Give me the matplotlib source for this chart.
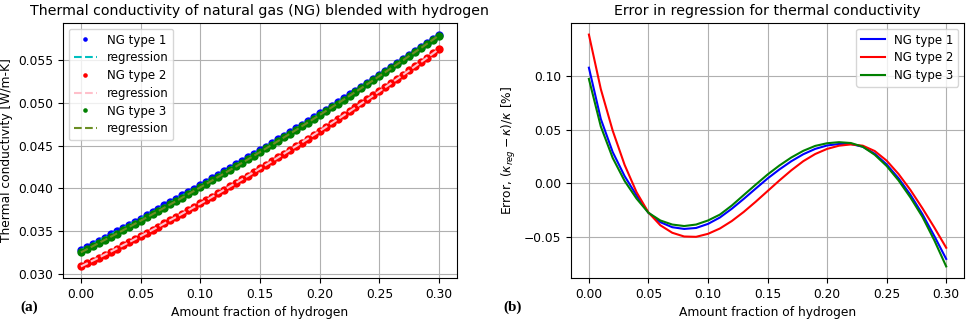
import matplotlib
matplotlib.use("Agg")
import matplotlib.pyplot as plt
import numpy as np

# amount fraction of hydrogen (0.005 steps for the conductivity data)
h2_frac = [round(0.005 * i, 3) for i in range(61)]

k_type1 = [0.03278, 0.03314, 0.03350, 0.03387, 0.03423, 0.03460, 0.03496, 0.03534,
           0.03571, 0.03609, 0.03646, 0.03684, 0.03722, 0.03760, 0.03799, 0.03838,
           0.03877, 0.03916, 0.03955, 0.03995, 0.04035, 0.04075, 0.04115, 0.04156,
           0.04197, 0.04238, 0.04279, 0.04320, 0.04361, 0.04403, 0.04445, 0.04487,
           0.04530, 0.04572, 0.04615, 0.04658, 0.04701, 0.04744, 0.04788, 0.04832,
           0.04876, 0.04920, 0.04964, 0.05009, 0.05054, 0.05099, 0.05144, 0.05190,
           0.05235, 0.05281, 0.05327, 0.05374, 0.05420, 0.05467, 0.05514, 0.05561,
           0.05609, 0.05656, 0.05704, 0.05752, 0.05800]

k_type2 = [0.03085, 0.03119, 0.03154, 0.03188, 0.03223, 0.03259, 0.03294, 0.03330,
           0.03366, 0.03403, 0.03439, 0.03476, 0.03514, 0.03551, 0.03589, 0.03627,
           0.03666, 0.03704, 0.03743, 0.03782, 0.03822, 0.03862, 0.03902, 0.03942,
           0.03983, 0.04024, 0.04065, 0.04106, 0.04148, 0.04190, 0.04232, 0.04275,
           0.04318, 0.04361, 0.04404, 0.04448, 0.04492, 0.04536, 0.04581, 0.04626,
           0.04671, 0.04716, 0.04762, 0.04808, 0.04854, 0.04900, 0.04947, 0.04994,
           0.05041, 0.05089, 0.05137, 0.05185, 0.05233, 0.05282, 0.05331, 0.05381,
           0.05430, 0.05480, 0.05530, 0.05580, 0.05631]

k_type3 = [0.03250, 0.03286, 0.03322, 0.03359, 0.03395, 0.03432, 0.03469, 0.03507,
           0.03544, 0.03582, 0.03620, 0.03658, 0.03696, 0.03735, 0.03774, 0.03813,
           0.03852, 0.03891, 0.03931, 0.03971, 0.04011, 0.04051, 0.04092, 0.04133,
           0.04174, 0.04215, 0.04256, 0.04298, 0.04339, 0.04382, 0.04424, 0.04466,
           0.04509, 0.04552, 0.04595, 0.04638, 0.04682, 0.04725, 0.04769, 0.04814,
           0.04858, 0.04903, 0.04947, 0.04992, 0.05038, 0.05083, 0.05129, 0.05175,
           0.05221, 0.05267, 0.05314, 0.05361, 0.05407, 0.05455, 0.05502, 0.05550,
           0.05598, 0.05646, 0.05694, 0.05742, 0.05785]

# regression error [%], 0.01 steps
err_frac = [round(0.01 * i, 2) for i in range(31)]

err_type1 = [0.1080, 0.0600, 0.0290, 0.0065, -0.0115, -0.0278, -0.0366, -0.0413,
             -0.0429, -0.0420, -0.0382, -0.0322, -0.0240, -0.0148, -0.0052, 0.0043,
             0.0128, 0.0205, 0.0270, 0.0320, 0.0352, 0.0366, 0.0366, 0.0340,
             0.0275, 0.0175, 0.0045, -0.0110, -0.0290, -0.0495, -0.0710]

err_type2 = [0.1390, 0.0880, 0.0490, 0.0170, -0.0085, -0.0275, -0.0395, -0.0465,
             -0.0500, -0.0503, -0.0475, -0.0425, -0.0355, -0.0270, -0.0175, -0.0075,
             0.0025, 0.0120, 0.0205, 0.0272, 0.0320, 0.0350, 0.0362, 0.0350,
             0.0300, 0.0210, 0.0085, -0.0065, -0.0235, -0.0415, -0.0605]

err_type3 = [0.0975, 0.0530, 0.0235, 0.0020, -0.0145, -0.0278, -0.0350, -0.0388,
             -0.0402, -0.0388, -0.0350, -0.0295, -0.0210, -0.0112, -0.0015, 0.0080,
             0.0165, 0.0240, 0.0302, 0.0348, 0.0373, 0.0383, 0.0375, 0.0340,
             0.0265, 0.0160, 0.0025, -0.0135, -0.0315, -0.0535, -0.0780]

plt.rcParams['font.size'] = 8.8

fig = plt.figure(figsize=(9.69, 3.22), dpi=100)
ax1 = fig.add_axes([0.065, 0.1366, 0.4066, 0.792])
ax2 = fig.add_axes([0.5893, 0.1366, 0.4056, 0.792])

x = np.array(h2_frac)
series = [(k_type1, 'b', 'c', 'NG type 1'),
          (k_type2, 'r', 'pink', 'NG type 2'),
          (k_type3, 'g', 'olivedrab', 'NG type 3')]
for k, col, reg_col, lab in series:
    ax1.plot(x, k, 'o', color=col, markersize=6, markeredgewidth=0, label=lab)
    coef = np.polyfit(x, k, 2)
    ax1.plot(x, np.polyval(coef, x), '--', color=reg_col, lw=1.5, label='regression')

ax1.set_title('Thermal conductivity of natural gas (NG) blended with hydrogen', fontsize=10.2)
ax1.set_xlabel('Amount fraction of hydrogen')
ax1.set_ylabel('Thermal conductivity [W/m-K]')
ax1.set_yticks([0.030, 0.035, 0.040, 0.045, 0.050, 0.055])
ax1.set_xticks([0.0, 0.05, 0.10, 0.15, 0.20, 0.25, 0.30])
ax1.grid(True)
ax1.legend(loc='upper left', markerscale=0.55, fontsize=8.5, labelspacing=0.4)

ax2.plot(err_frac, err_type1, color='b', lw=1.5, label='NG type 1')
ax2.plot(err_frac, err_type2, color='r', lw=1.5, label='NG type 2')
ax2.plot(err_frac, err_type3, color='g', lw=1.5, label='NG type 3')
ax2.set_title('Error in regression for thermal conductivity', fontsize=10.2)
ax2.set_xlabel('Amount fraction of hydrogen')
ax2.set_ylabel(r'Error, $(\kappa_{reg} - \kappa)/\kappa$ [%]')
ax2.set_yticks([-0.05, 0.0, 0.05, 0.10])
ax2.set_xticks([0.0, 0.05, 0.10, 0.15, 0.20, 0.25, 0.30])
ax2.grid(True)
ax2.legend(loc='upper right', fontsize=8.5, labelspacing=0.4)

fig.text(0.021, 0.035, '(a)', fontsize=11, fontweight='bold', family='Liberation Serif')
fig.text(0.519, 0.035, '(b)', fontsize=11, fontweight='bold', family='Liberation Serif')

fig.savefig('out.png', dpi=100)
